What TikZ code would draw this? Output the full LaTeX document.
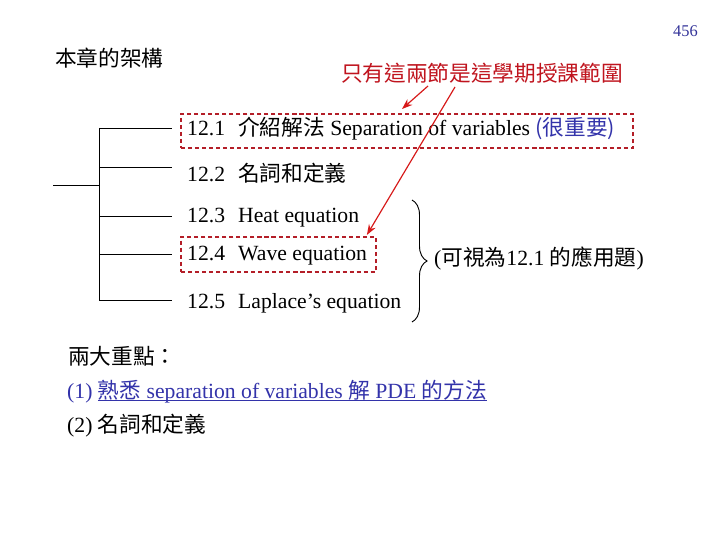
\documentclass[tikz,border=0pt]{standalone}
\usepackage{fontspec}
\setmainfont{Liberation Serif}
\newfontfamily\cjk{Noto Sans CJK TC}
\usetikzlibrary{positioning,calc,arrows.meta,decorations.pathreplacing}

\definecolor{pagenum}{RGB}{51,51,153}
\definecolor{textblue}{RGB}{51,51,170}
\definecolor{notered}{RGB}{192,20,30}
\definecolor{boxred}{RGB}{180,30,40}
\definecolor{arrred}{RGB}{215,25,25}

\newcommand{\gap}{\hspace{.6em}}
\newcommand{\uls}[1]{\underline{\smash{#1}}}

\begin{document}
\begin{tikzpicture}[x=0.03cm, y=-0.03cm, font=\fontsize{18.5}{22}\selectfont]
  \tikzset{branch/.style={line width=0.8pt},
    item/.style={anchor=base west, inner sep=0pt},
    hlbox/.style={draw=boxred, dash pattern=on 3.5pt off 2.5pt, line width=1.6pt, inner sep=0pt, anchor=north west},
    pointer/.style={draw=arrred, line width=1pt, -{Stealth[length=9pt,width=6.5pt]}}}
  \path[use as bounding box, fill=white] (0,0) rectangle (720,540);

  \node [item, anchor=base east, font=\fontsize{14}{16}\selectfont, text=pagenum] at (698,37) (page) {456};
  \node [item] at (55,67) (title) {\cjk 本章的架構};
  \node [item, text=notered] at (341,82) (range) {\cjk 只有這兩節是這學期授課範圍};

  % highlighted sections
  \node [hlbox, minimum width=13.56cm, minimum height=1.02cm] at (180,113) (b1) {};
  \node [hlbox, minimum width=5.85cm, minimum height=1.05cm] at (180,236) (b4) {};

  \node [item] at (187,136) (s1) {12.1\gap{\cjk 介紹解法} Separation of variables {\color{textblue}\cjk (很重要)}};
  \node [item] at (187,182) (s2) {12.2\gap{\cjk 名詞和定義}};
  \node [item] at (187,223) (s3) {12.3\gap Heat equation};
  \node [item] at (187,261) (s4) {12.4\gap Wave equation};
  \node [item] at (187,309) (s5) {12.5\gap Laplace's equation};

  % tree
  \coordinate (root) at (53,185);
  \coordinate (fork) at (99,185);
  \draw[branch] (root) -- (fork);
  \draw[branch] (99,128) -- (99,300);
  \foreach \y in {128,167,216,254,300}
    \draw[branch] (99,\y) -- (172,\y);

  % brace for 12.3 -- 12.5
  \coordinate (brtop) at (412,200);
  \coordinate (brbot) at (412,322);
  \draw[branch, decorate, decoration={brace, amplitude=0.45cm}] (brtop) -- (brbot);
  \node [item] at (434,266) (app) {(\cjk 可視為\normalfont 12.1 \cjk 的應用題\normalfont)};

  \draw[pointer] ($(range.base west)+(87,4)$) -- ($(b1.north west)+(222,-4)$);
  \draw[pointer] ($(range.base west)+(114,5)$) -- ($(b4.north east)+(-10,-1)$);

  % summary
  \node [item] at (68,365) (key) {\cjk 兩大重點：};
  \node [item, text=textblue] at (67,399) (key1) {(1) \uls{{\cjk 熟悉} separation of variables {\cjk 解} PDE {\cjk 的方法}}};
  \node [item] at (67,432) (key2) {(2) {\cjk 名詞和定義}};
\end{tikzpicture}
\end{document}
